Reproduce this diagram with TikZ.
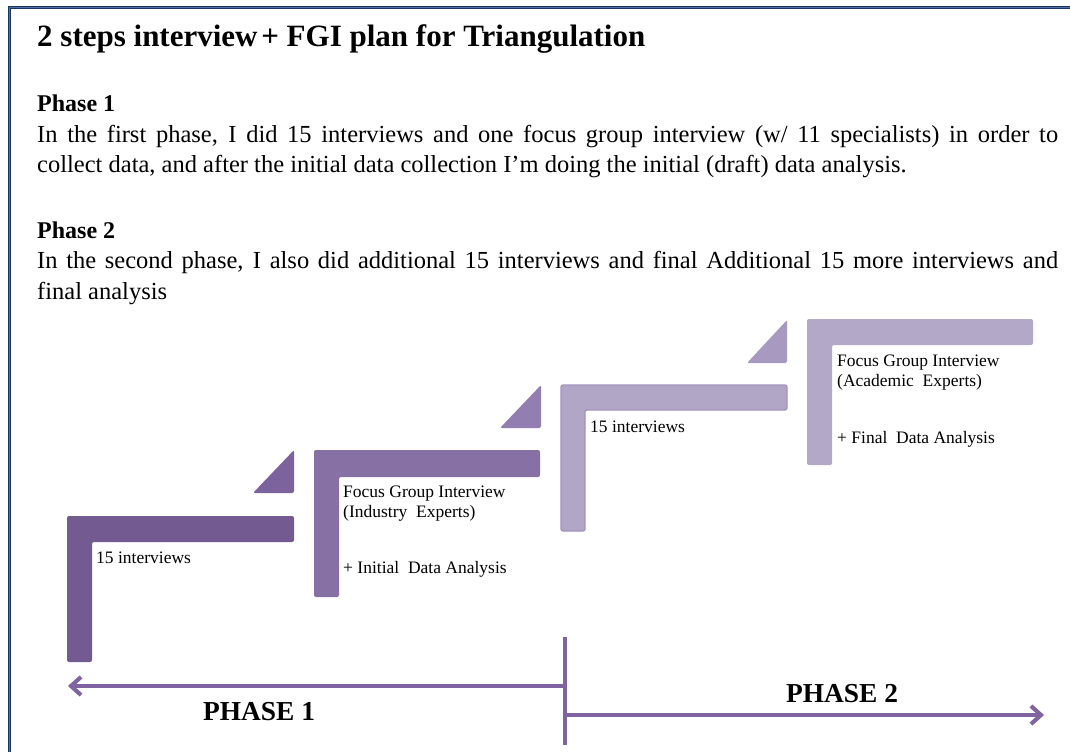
\documentclass[tikz,border=0pt]{standalone}
\usepackage{fontspec}
\setmainfont{Liberation Serif}
\usetikzlibrary{arrows.meta}

% palette
\definecolor{framenavy}{HTML}{17365D}
\definecolor{framelight}{HTML}{4F6FA8}
\definecolor{stepone}{HTML}{735A91}
\definecolor{triOne}{HTML}{7D639D}
\definecolor{steptwo}{HTML}{8670A4}
\definecolor{triTwo}{HTML}{927EB0}
\definecolor{stepthree}{HTML}{B2A6C6}
\definecolor{stepthreeline}{HTML}{A293BD}
\definecolor{triThree}{HTML}{A899C0}
\definecolor{stepfour}{HTML}{B3A8C8}
\definecolor{timelinec}{HTML}{8064A2}

% L-shaped step: style, left x, right x, top y, bar bottom y, inner x, bottom y
\newcommand\ellshape[7]{%
  \path[#1] (#2,#4) -- (#3,#4) -- (#3,#5) -- (#6,#5) -- (#6,#7) -- (#2,#7) -- cycle;}

\begin{document}
\begin{tikzpicture}[x=1pt,y=-1pt,
  frame/.style={draw=framenavy, line width=1.1pt, double=framelight, double distance=0.6pt},
  titletext/.style={anchor=base west, inner sep=0pt, font=\bfseries\fontsize{31}{36}\selectfont},
  headtext/.style={anchor=base west, inner sep=0pt, font=\bfseries\fontsize{24}{30}\selectfont},
  bodytext/.style={anchor=base west, inner sep=0pt, font=\fontsize{24.5}{30}\selectfont},
  steplabel/.style={anchor=base west, inner sep=0pt, font=\fontsize{17.5}{20}\selectfont},
  phaselabel/.style={anchor=base, inner sep=0pt, font=\bfseries\fontsize{27.4}{32}\selectfont},
  stepfill/.style={fill=#1, rounded corners=2pt},
  timeline/.style={draw=timelinec, line width=4pt},
  timeshadow/.style={draw=black!50, opacity=0.3, line width=4pt},
  tip/.style={-{Straight Barb[length=10pt,width=18pt,line width=4pt]}}
]
\useasboundingbox (0,0) rectangle (1070,752);

% frame (left and top edges)
\draw[frame] (9.5,752) -- (9.5,7.5) -- (1070,7.5);

% heading and description
\node[titletext] (title) at (37,47) {2 steps interview\hspace{0.12em}+ FGI plan for Triangulation};
\node[headtext] (p1head) at (37,111) {Phase 1};
\node[bodytext] (p1l1) at (37,142) {\makebox[1021pt][s]{In the first phase, I did 15 interviews and one focus group interview (w/ 11 specialists) in order to}};
\node[bodytext] (p1l2) at (37,172) {collect data, and after the initial data collection I’m doing the initial (draft) data analysis.};
\node[headtext] (p2head) at (37,238) {Phase 2};
\node[bodytext] (p2l1) at (37,268) {\makebox[1021pt][s]{In the second phase, I also did additional 15 interviews and final Additional 15 more interviews and}};
\node[bodytext] (p2l2) at (37,299) {final analysis};

% staircase of steps
\ellshape{stepfill=stepone}{67}{294}{516}{542}{92}{662}
\path[stepfill=triOne] (253,493) -- (294,493) -- (294,450) -- cycle;
\ellshape{stepfill=steptwo}{314}{540}{450}{477}{339}{597}
\path[stepfill=triTwo] (500,428) -- (541,428) -- (541,385) -- cycle;
\ellshape{stepfill=stepthree, draw=stepthreeline, line width=1.2pt}{561}{787}{385}{410}{585}{531}
\path[stepfill=triThree] (747,363) -- (787,363) -- (787,320) -- cycle;
\ellshape{stepfill=stepfour}{807}{1033}{319}{345}{832}{465}

% step labels
\node[steplabel] (s1) at (96,563) {15 interviews};
\node[steplabel] (s2a) at (343,497) {Focus Group Interview};
\node[steplabel] (s2b) at (343,517) {(Industry~ Experts)};
\node[steplabel] (s2c) at (343,573) {+ Initial~ Data Analysis};
\node[steplabel] (s3) at (590,432) {15 interviews};
\node[steplabel] (s4a) at (837,366) {Focus Group Interview};
\node[steplabel] (s4b) at (837,386) {(Academic~ Experts)};
\node[steplabel] (s4c) at (837,443) {+ Final~ Data Analysis};

% timeline
\coordinate (divtop) at (565,637);
\coordinate (divbot) at (565,745);
\coordinate (leftstart) at (565,686);
\coordinate (leftend) at (68,686);
\coordinate (rightstart) at (565,715);
\coordinate (rightend) at (1044,715);

\begin{scope}[shift={(1.5,2)}]
  \draw[timeshadow] (divtop) -- (divbot);
  \draw[timeshadow, tip] (leftstart) -- (leftend);
  \draw[timeshadow, tip] (rightstart) -- (rightend);
\end{scope}
\draw[timeline] (divtop) -- (divbot);
\draw[timeline, tip] (leftstart) -- (leftend);
\draw[timeline, tip] (rightstart) -- (rightend);

\node[phaselabel] (ph1) at (259,720) {PHASE 1};
\node[phaselabel] (ph2) at (842,702) {PHASE 2};
\end{tikzpicture}
\end{document}
